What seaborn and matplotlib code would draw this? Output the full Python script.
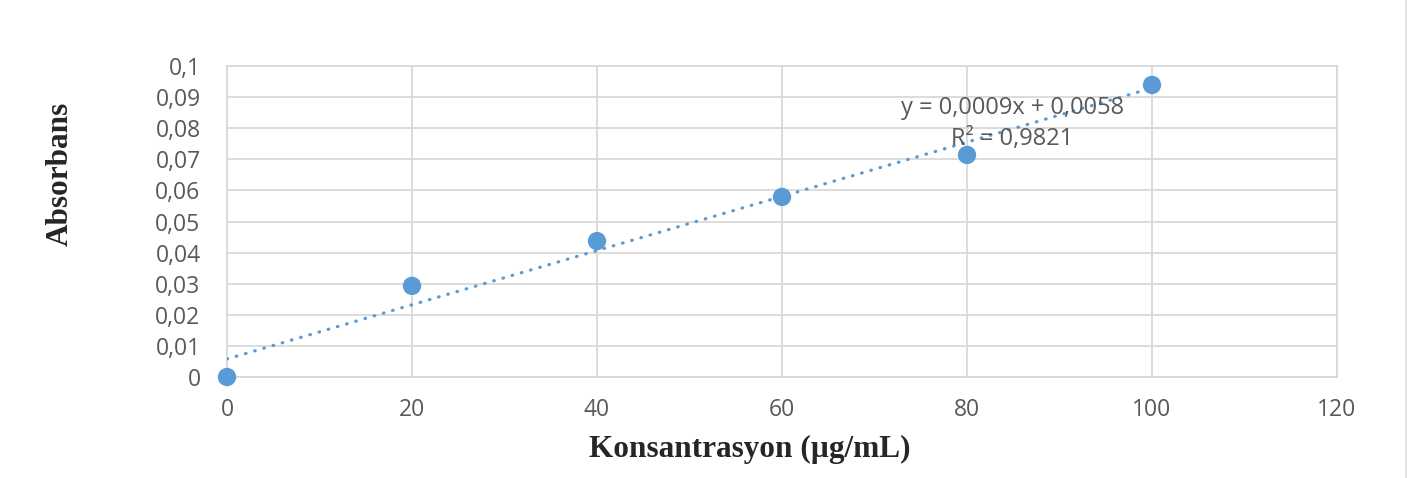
import numpy as np
import pandas as pd
import matplotlib
matplotlib.use("Agg")
import matplotlib.pyplot as plt
from matplotlib.lines import Line2D
import seaborn as sns

# valores
konsantrasyon = [0, 20, 40, 60, 80, 100]
absorbans = [0.0, 0.0293, 0.0437, 0.0579, 0.0714, 0.0939]
x_ticks = [0, 20, 40, 60, 80, 100, 120]
y_ticks = [0, 0.01, 0.02, 0.03, 0.04, 0.05, 0.06, 0.07, 0.08, 0.09, 0.1]
y_labels = ["0", "0,01", "0,02", "0,03", "0,04", "0,05", "0,06", "0,07", "0,08", "0,09", "0,1"]
denklem = "y = 0,0009x + 0,0058\nR² = 0,9821"

df = pd.DataFrame({"x": konsantrasyon, "y": absorbans})

sns.set_style("white")
plt.rcParams["font.family"] = ["Open Sans", "DejaVu Sans"]

mavi = "#5B9BD5"
gri = "#595959"
grid = "#D9D9D9"

fig = plt.figure(figsize=(14.12, 4.78), dpi=100)
ax = fig.add_axes([227 / 1412, 1 - 377 / 478, 1110 / 1412, 311 / 478])

# trendline (linear fit)
sns.regplot(data=df, x="x", y="y", scatter=False, ci=None, truncate=True, ax=ax,
            line_kws=dict(color=mavi, lw=2.3, linestyle=(0, (0.2, 2.8)),
                          dash_capstyle="round", zorder=3))
sns.scatterplot(data=df, x="x", y="y", ax=ax, color=mavi, s=175, edgecolor="none",
                zorder=4, clip_on=False)

ax.set_xlim(0, 120)
ax.set_ylim(0, 0.1)
ax.set_xticks(x_ticks)
ax.set_xticklabels([str(v) for v in x_ticks])
ax.set_yticks(y_ticks)
ax.set_yticklabels(y_labels)
ax.tick_params(axis="both", length=0, labelsize=16.5, colors=gri)
ax.tick_params(axis="y", pad=19)
ax.tick_params(axis="x", pad=15)
ax.grid(True, color=grid, lw=1.3)
ax.set_axisbelow(True)
for s in ax.spines.values():
    s.set_color(grid)
    s.set_linewidth(1.3)
ax.set_xlabel("")
ax.set_ylabel("")

ax.text(84.9, 0.0815, denklem, ha="center", va="center", fontsize=17, color=gri,
        linespacing=1.4, zorder=5)

fig.text(750 / 1412, 1 - 449 / 478, "Konsantrasyon (µg/mL)", ha="center", va="center",
         fontsize=22.5, fontweight="bold", family=["Liberation Serif", "DejaVu Serif"])
fig.text(60 / 1412, 1 - 174 / 478, "Absorbans", ha="center", va="center", rotation=90,
         fontsize=22.5, fontweight="bold", family=["Liberation Serif", "DejaVu Serif"])

fig.add_artist(Line2D([1406 / 1412, 1406 / 1412], [0, 1], color="#E3E3E3", lw=1.5,
                      transform=fig.transFigure))

fig.savefig("out.png", dpi=100)
